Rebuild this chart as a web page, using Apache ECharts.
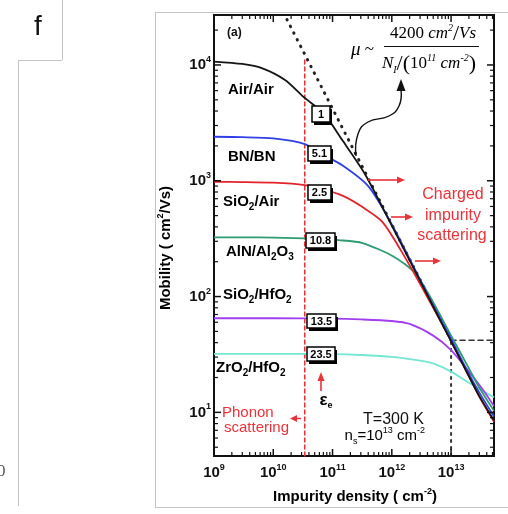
<!DOCTYPE html>
<html><head><meta charset="utf-8">
<script src="https://cdn.jsdelivr.net/npm/echarts@6/dist/echarts.min.js"></script>
<style>html,body{margin:0;padding:0;background:#fff}#c{width:508px;height:514px}</style>
</head><body><div id="c"></div><script>
// ---- axes ----
const X_MIN = 1e9, X_MAX = 5.3e13, Y_MIN = 4.2, Y_MAX = 27000;
const xTickValues = [1e9, 1e10, 1e11, 1e12, 1e13];
const yTickValues = [10, 100, 1000, 10000];

// ---- curves (impurity density cm^-2, mobility cm^2/Vs) ----
const airNi = [1e9, 3e9, 6.4e9, 1.58e10, 3.4e10, 7e10, 1.5e11, 3.5e11, 1e12, 4.4e12, 1e13, 2e13, 3e13, 5.3e13];
const airMu = [10700, 10200, 9400, 7420, 5190, 3850, 2200, 1150, 410, 93, 41, 20.5, 13.8, 8.5];
const bnNi = [1e9, 3e9, 1e10, 3.4e10, 6.6e10, 1.5e11, 4e11, 1e12, 4.4e12, 1e13, 2e13, 3e13, 5.3e13];
const bnMu = [2400, 2380, 2320, 2075, 1700, 1350, 900, 420, 95, 43, 21.5, 14.8, 9.2];
const sioAirNi = [1e9, 3e9, 1e10, 3.4e10, 6.6e10, 1.5e11, 3.2e11, 7e11, 1.66e12, 4.4e12, 1e13, 2e13, 3e13, 5.3e13];
const sioAirMu = [980, 975, 962, 918, 850, 740, 593, 440, 219, 90, 41.5, 20.5, 13.6, 8.3];
const alnNi = [1e9, 3e9, 1e10, 5e10, 1.26e11, 3.2e11, 1.1e12, 2.45e12, 4.4e12, 1e13, 2e13, 3e13, 5.3e13];
const alnMu = [325, 325, 323, 316, 307, 290, 220, 160, 100, 46, 24, 16.3, 10.3];
const sioHfNi = [1e9, 1e10, 1e11, 3e11, 1e12, 2e12, 5e12, 1e13, 2e13, 3.5e13, 5.3e13];
const sioHfMu = [65, 65, 64.5, 63.5, 61.5, 58, 46, 34.5, 22.5, 15.5, 11.3];
const zroNi = [1e9, 1e10, 1e11, 3e11, 1e12, 3e12, 5e12, 1e13, 2e13, 3.5e13, 5.3e13];
const zroMu = [32, 32, 31.8, 31.3, 30.2, 28, 26.5, 22.5, 18, 15.2, 13.5];

// ---- guide lines ----
const asymNi = [1.7e10, 1e13];          // mu ~ 4200/(Ni/1e11)
const asymMu = [24700, 42];
const phononNi = [3.4e10, 3.4e10];
const phononMu = [Y_MIN, 11700];
const hGuideNi = [1e13, X_MAX];
const hGuideMu = [42, 42];
const vGuideNi = [1e13, 1e13];
const vGuideMu = [Y_MIN, 42];

// ---- annotations ----
const epsLabels = ['1', '5.1', '2.5', '10.8', '13.5', '23.5'];
const curveNames = ['{b|Air/Air}', '{b|BN/BN}', '{b|SiO}{s|2}{b|/Air}', '{b|AlN/Al}{s|2}{b|O}{s|3}',
                    '{b|SiO}{s|2}{b|/HfO}{s|2}', '{b|ZrO}{s|2}{b|/HfO}{s|2}'];

const SANS = 'Liberation Sans', SERIF = 'Liberation Serif';
const RED = '#e8333b';

function pairs(a, b) { return a.map((v, i) => [v, b[i]]); }
function curve(ni, mu, color, z) {
  return { type: 'line', data: pairs(ni, mu), symbol: 'none', smooth: 0.25,
    lineStyle: { color: color, width: 1.8 }, silent: true, z: z };
}
function guide(ni, mu, color, width, type, z) {
  return { type: 'line', data: pairs(ni, mu), symbol: 'none', silent: true, z: z,
    lineStyle: { color: color, width: width, type: type, cap: 'round' } };
}
function isPow(v) { const l = Math.log10(v); return Math.abs(l - Math.round(l)) < 1e-6; }
function powLabel(v) { if (!isPow(v)) return ''; return '{b|10}{p|' + Math.round(Math.log10(v)) + '}'; }
const tickRich = {
  b: { fontSize: 15, fontWeight: 'bold', fontFamily: SANS, color: '#111', lineHeight: 20, verticalAlign: 'middle' },
  p: { fontSize: 9, fontWeight: 'bold', fontFamily: SANS, color: '#111', lineHeight: 10, verticalAlign: 'top' }
};

// minor tick positions (2..9 x each decade)
function minors(lo, hi) {
  const out = [];
  for (let d = Math.floor(Math.log10(lo)); d <= Math.ceil(Math.log10(hi)); d++)
    for (let k = 2; k <= 9; k++) { const v = k * Math.pow(10, d); if (v > lo && v < hi) out.push(v); }
  return out;
}
const xMinor = minors(X_MIN, X_MAX), yMinor = minors(Y_MIN, Y_MAX);

const tickSeries = {
  type: 'custom', silent: true, clip: false, z: 20, data: [[1e10, 100]],
  renderItem: function (params, api) {
    const ch = [];
    const ln = (x1, y1, x2, y2, w) => ch.push({ type: 'line', shape: { x1, y1, x2, y2 }, style: { stroke: '#111', lineWidth: w } });
    const xt = (v, len, w) => { const b = api.coord([v, Y_MIN]), t = api.coord([v, Y_MAX]);
      ln(b[0], b[1], b[0], b[1] - len, w); ln(t[0], t[1], t[0], t[1] + len, w); };
    const yt = (v, len, w) => { const l = api.coord([X_MIN, v]), r = api.coord([X_MAX, v]);
      ln(l[0], l[1], l[0] + len, l[1], w); ln(r[0], r[1], r[0] - len, r[1], w); };
    xTickValues.forEach(v => xt(v, 7, 1.5)); xMinor.forEach(v => xt(v, 4, 1.2));
    yTickValues.forEach(v => yt(v, 7, 1.5)); yMinor.forEach(v => yt(v, 4, 1.2));
    return { type: 'group', children: ch };
  }
};

function numBox(x, y, w, h, txt) {
  return [
    { type: 'rect', z: 100, shape: { x: x + 2, y: y + 3, width: w, height: h }, style: { fill: '#000' } },
    { type: 'rect', z: 101, shape: { x: x, y: y, width: w, height: h }, style: { fill: '#fff', stroke: '#000', lineWidth: 1.5 } },
    { type: 'text', z: 102, x: x + w / 2, y: y + h / 2 + 0.5, style: { text: txt, fontSize: 11, fontWeight: 'bold', fontFamily: SANS, fill: '#000', align: 'center', verticalAlign: 'middle' } }
  ];
}
function rArrow(x1, x2, y) {
  return [
    { type: 'line', z: 100, shape: { x1: x1, y1: y, x2: x2 - 5, y2: y }, style: { stroke: RED, lineWidth: 1.6 } },
    { type: 'polygon', z: 100, shape: { points: [[x2 - 8, y - 3.5], [x2, y], [x2 - 8, y + 3.5]] }, style: { fill: RED } }
  ];
}
const labelRich = {
  b: { fontSize: 15, fontWeight: 'bold', fontFamily: SANS, color: '#111', lineHeight: 20, verticalAlign: 'middle' },
  s: { fontSize: 10, fontWeight: 'bold', fontFamily: SANS, color: '#111', lineHeight: 9, verticalAlign: 'bottom' }
};
function label(x, y, txt) {
  return { type: 'text', z: 100, x: x, y: y, style: { text: txt, rich: labelRich, align: 'left', verticalAlign: 'middle' } };
}
function plain(x, y, txt, size, color, align, weight, family) {
  return { type: 'text', z: 100, x: x, y: y, style: { text: txt, fontSize: size, fontWeight: weight || 'normal',
    fontFamily: family || SANS, fill: color, align: align || 'left', verticalAlign: 'middle' } };
}
const serifRich = {
  n: { fontSize: 17, fontFamily: SERIF, color: '#111', lineHeight: 22, verticalAlign: 'middle' },
  i: { fontSize: 17, fontStyle: 'italic', fontFamily: SERIF, color: '#111', lineHeight: 22, verticalAlign: 'middle' },
  m: { fontSize: 19, fontStyle: 'italic', fontFamily: SERIF, color: '#111', lineHeight: 22, verticalAlign: 'middle' },
  L: { fontSize: 22, fontFamily: SERIF, color: '#111', lineHeight: 22, verticalAlign: 'middle' },
  p: { fontSize: 10, fontStyle: 'italic', fontFamily: SERIF, color: '#111', lineHeight: 10, verticalAlign: 'top' },
  s: { fontSize: 10, fontStyle: 'italic', fontFamily: SERIF, color: '#111', lineHeight: 10, verticalAlign: 'bottom' }
};

const gray = '#c4c4c4';
const elements = [].concat(
  // left panel remnants
  { type: 'line', shape: { x1: 18.5, y1: 60, x2: 18.5, y2: 506 }, style: { stroke: gray, lineWidth: 1 } },
  { type: 'line', shape: { x1: 18.5, y1: 60.5, x2: 62, y2: 60.5 }, style: { stroke: gray, lineWidth: 1 } },
  { type: 'line', shape: { x1: 62.5, y1: 0, x2: 62.5, y2: 60 }, style: { stroke: gray, lineWidth: 1 } },
  plain(38, 27, 'f', 28, '#111', 'center'),
  plain(-3, 472, '0', 17, '#555', 'left', 'normal', SERIF),
  // right panel frame
  { type: 'line', shape: { x1: 155.5, y1: 12, x2: 155.5, y2: 508 }, style: { stroke: gray, lineWidth: 1 } },
  { type: 'line', shape: { x1: 155, y1: 12.5, x2: 508, y2: 12.5 }, style: { stroke: gray, lineWidth: 1 } },
  { type: 'line', shape: { x1: 155, y1: 507.5, x2: 508, y2: 507.5 }, style: { stroke: gray, lineWidth: 1 } },
  // axis names
  { type: 'text', z: 100, x: 166, y: 248, rotation: Math.PI / 2,
    style: { text: '{b|Mobility ( cm}{p|2}{b|/Vs)}', align: 'center', verticalAlign: 'middle',
      rich: { b: { fontSize: 15, fontWeight: 'bold', fontFamily: SANS, color: '#111', lineHeight: 20, verticalAlign: 'middle' },
              p: { fontSize: 9, fontWeight: 'bold', fontFamily: SANS, color: '#111', lineHeight: 10, verticalAlign: 'top' } } } },
  { type: 'text', z: 100, x: 355, y: 497,
    style: { text: '{b|Impurity density ( cm}{p|-2}{b|)}', align: 'center', verticalAlign: 'middle',
      rich: { b: { fontSize: 15, fontWeight: 'bold', fontFamily: SANS, color: '#111', lineHeight: 20, verticalAlign: 'middle' },
              p: { fontSize: 9, fontWeight: 'bold', fontFamily: SANS, color: '#111', lineHeight: 10, verticalAlign: 'top' } } } },
  // panel tag
  plain(227, 33, '(a)', 12, '#111', 'left', 'bold'),
  // curve labels
  label(228, 90, curveNames[0]), label(228, 157, curveNames[1]), label(223, 202, curveNames[2]),
  label(226, 252, curveNames[3]), label(223, 295, curveNames[4]), label(216, 368, curveNames[5]),
  // dielectric constant boxes
  numBox(312, 106, 18, 16, epsLabels[0]), numBox(308, 146, 23, 15, epsLabels[1]),
  numBox(308, 185, 23, 15, epsLabels[2]), numBox(306, 233, 29, 15, epsLabels[3]),
  numBox(307, 314, 29, 14, epsLabels[4]), numBox(307, 347, 28, 14, epsLabels[5]),
  // epsilon arrow
  { type: 'line', z: 100, shape: { x1: 321, y1: 391, x2: 321, y2: 378 }, style: { stroke: RED, lineWidth: 1.6 } },
  { type: 'polygon', z: 100, shape: { points: [[317.5, 381], [324.5, 381], [321, 372]] }, style: { fill: RED } },
  { type: 'text', z: 100, x: 326, y: 400, style: { text: '{e|ε}{s|e}', align: 'center', verticalAlign: 'middle',
      rich: { e: { fontSize: 17, fontWeight: 'bold', fontFamily: SANS, color: '#111', lineHeight: 20, verticalAlign: 'middle' },
              s: { fontSize: 9, fontWeight: 'bold', fontFamily: SANS, color: '#111', lineHeight: 9, verticalAlign: 'bottom' } } } },
  // phonon scattering
  plain(222, 413, 'Phonon', 15, RED),
  plain(224, 428, 'scattering', 15, RED),
  { type: 'polygon', z: 100, shape: { points: [[290, 418.5], [297, 415], [297, 422]] }, style: { fill: RED } },
  { type: 'line', z: 100, shape: { x1: 296, y1: 418.5, x2: 301, y2: 418.5 }, style: { stroke: RED, lineWidth: 1.5 } },
  // charged impurity scattering
  plain(453, 195, 'Charged', 16, RED, 'center'),
  plain(453, 216, 'impurity', 16, RED, 'center'),
  plain(452, 236, 'scattering', 16, RED, 'center'),
  rArrow(368, 405, 180), rArrow(391, 413, 217), rArrow(415, 441, 261),
  // T and ns
  plain(424, 420, 'T=300 K', 16, '#111', 'right'),
  { type: 'text', z: 100, x: 425, y: 436, style: { text: '{b|n}{s|s}{b|=10}{p|13}{b| cm}{p|-2}', align: 'right', verticalAlign: 'middle',
      rich: { b: { fontSize: 15, fontFamily: SANS, color: '#111', lineHeight: 20, verticalAlign: 'middle' },
              s: { fontSize: 9, fontFamily: SANS, color: '#111', lineHeight: 9, verticalAlign: 'bottom' },
              p: { fontSize: 9, fontFamily: SANS, color: '#111', lineHeight: 9, verticalAlign: 'top' } } } },
  // formula
  { type: 'text', z: 100, x: 351, y: 50, style: { text: '{m|μ}{n| ~}', rich: serifRich, align: 'left', verticalAlign: 'middle' } },
  { type: 'text', z: 100, x: 433, y: 34, style: { text: '{n|4200}{i| cm}{p|2}{L|/}{i|Vs}', rich: serifRich, align: 'center', verticalAlign: 'middle' } },
  { type: 'line', z: 100, shape: { x1: 384, y1: 46.5, x2: 479, y2: 46.5 }, style: { stroke: '#111', lineWidth: 1.2 } },
  { type: 'text', z: 100, x: 429, y: 64, style: { text: '{i|N}{s|I}{L|/(}{n|10}{p|11}{i| cm}{p|-2}{L|)}', rich: serifRich, align: 'center', verticalAlign: 'middle' } },
  // curly arrow to the asymptote
  { type: 'polyline', z: 100, shape: { points: [[356, 156], [358, 134], [368, 122], [389, 116], [399, 106], [401, 90]], smooth: 0.5 },
    style: { stroke: '#111', lineWidth: 1.4, fill: null } },
  { type: 'polygon', z: 100, shape: { points: [[396.5, 91], [405.5, 91], [401, 79]] }, style: { fill: '#111' } }
);

const option = {
  animation: false,
  backgroundColor: '#fff',
  grid: { left: 214, right: 14, top: 15, bottom: 58, show: true, borderColor: '#111', borderWidth: 2, backgroundColor: 'transparent' },
  xAxis: { type: 'log', logBase: 10, min: X_MIN, max: X_MAX,
    axisLine: { show: false }, axisTick: { show: false }, splitLine: { show: false },
    axisLabel: { formatter: powLabel, rich: tickRich, margin: 7, showMinLabel: true, showMaxLabel: false, hideOverlap: false } },
  yAxis: { type: 'log', logBase: 10, min: Y_MIN, max: Y_MAX,
    axisLine: { show: false }, axisTick: { show: false }, splitLine: { show: false },
    axisLabel: { formatter: powLabel, rich: tickRich, margin: 3, showMinLabel: false, showMaxLabel: false, hideOverlap: false } },
  series: [
    guide(phononNi, phononMu, RED, 1.5, [4, 3], 2),
    guide(asymNi, asymMu, '#222', 3, [0.5, 7], 3),
    guide(hGuideNi, hGuideMu, '#333', 1.6, [5, 4], 3),
    guide(vGuideNi, vGuideMu, '#333', 2, [2, 5], 3),
    curve(zroNi, zroMu, '#74e6d2', 4),
    curve(sioHfNi, sioHfMu, '#a03ef0', 5),
    curve(alnNi, alnMu, '#2e9c70', 6),
    curve(sioAirNi, sioAirMu, '#e3242b', 7),
    curve(bnNi, bnMu, '#3040e6', 8),
    curve(airNi, airMu, '#151515', 9),
    tickSeries
  ],
  graphic: { elements: elements }
};
const chart = echarts.init(document.getElementById('c'));
chart.setOption(option);
</script></body></html>
